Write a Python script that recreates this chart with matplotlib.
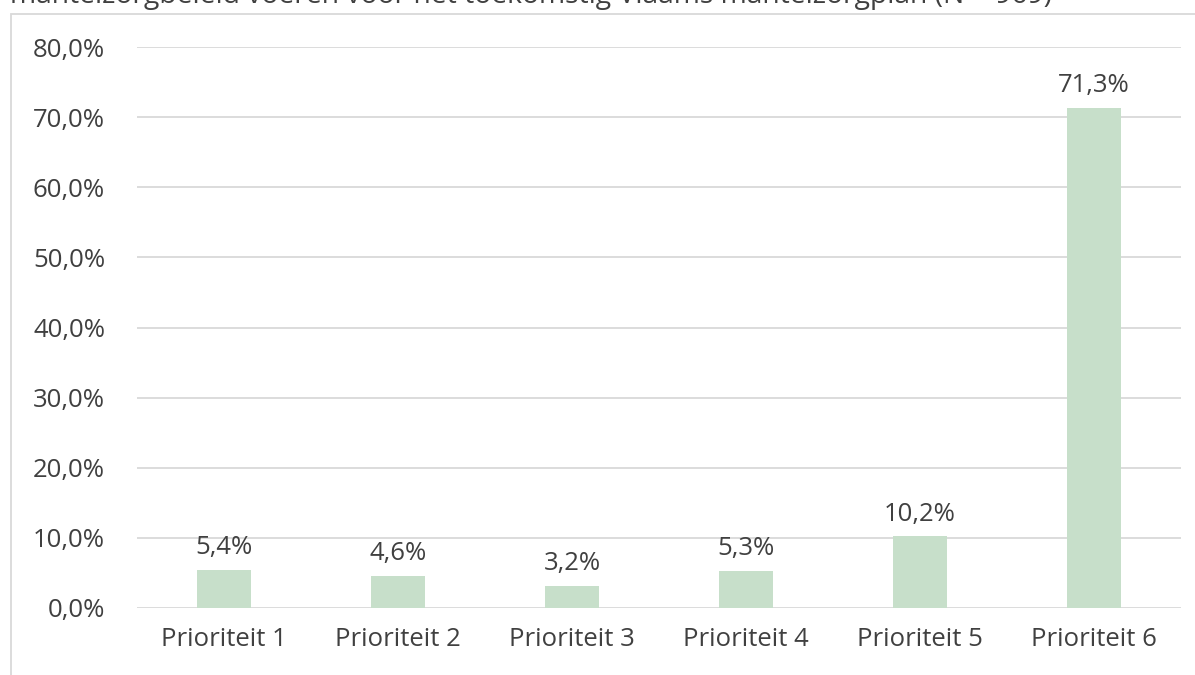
import matplotlib.pyplot as plt
from matplotlib.patches import Rectangle

plt.rcParams['font.family'] = ['Open Sans', 'DejaVu Sans']

categories = ["Prioriteit 1", "Prioriteit 2", "Prioriteit 3",
              "Prioriteit 4", "Prioriteit 5", "Prioriteit 6"]
values = [5.4, 4.6, 3.2, 5.3, 10.2, 71.3]
yticks = [0, 10, 20, 30, 40, 50, 60, 70, 80]

BAR = "#C7DFCA"
TEXT = "#404040"
GRID = "#D9D9D9"
FS = 18.5

W, H = 1195, 675
fig = plt.figure(figsize=(W / 100, H / 100), dpi=100)
fig.patch.set_facecolor("white")

# chart frame, running off the bottom/right edges
fig.patches.append(Rectangle((11 / W, -0.05), 1.2, 1 - 14 / H + 0.05,
                             transform=fig.transFigure, fill=False,
                             edgecolor=GRID, linewidth=1.3))

# title, mostly cropped at the top
fig.text(10 / W, 1 - 3 / H,
         "mantelzorgbeleid voeren voor het toekomstig Vlaams mantelzorgplan (N = 969)",
         ha="left", va="baseline", fontsize=20.3, color=TEXT)

ax = fig.add_axes([137 / W, 1 - 608 / H, (1181 - 137) / W, (608 - 47) / H])
x = range(len(categories))
bars = ax.bar(x, values, width=0.31, color=BAR, zorder=2)
ax.set_xlim(-0.5, len(categories) - 0.5)
ax.set_ylim(0, 80)
ax.set_yticks(yticks)
ax.set_yticklabels([f"{v:.1f}%".replace(".", ",") for v in yticks])
ax.set_xticks(list(x))
ax.set_xticklabels(categories)
ax.tick_params(axis="both", length=0, labelsize=FS, labelcolor=TEXT)
ax.tick_params(axis="y", pad=23)
ax.tick_params(axis="x", pad=14)
ax.yaxis.grid(True, color=GRID, linewidth=1.3, zorder=0)
for s in ax.spines.values():
    s.set_visible(False)
ax.set_facecolor("none")

for b, v in zip(bars, values):
    ax.annotate(f"{v:.1f}%".replace(".", ","),
                (b.get_x() + b.get_width() / 2, v),
                xytext=(0, 7), textcoords="offset points",
                ha="center", va="bottom", fontsize=FS, color=TEXT)

fig.savefig("out.png", dpi=100)
